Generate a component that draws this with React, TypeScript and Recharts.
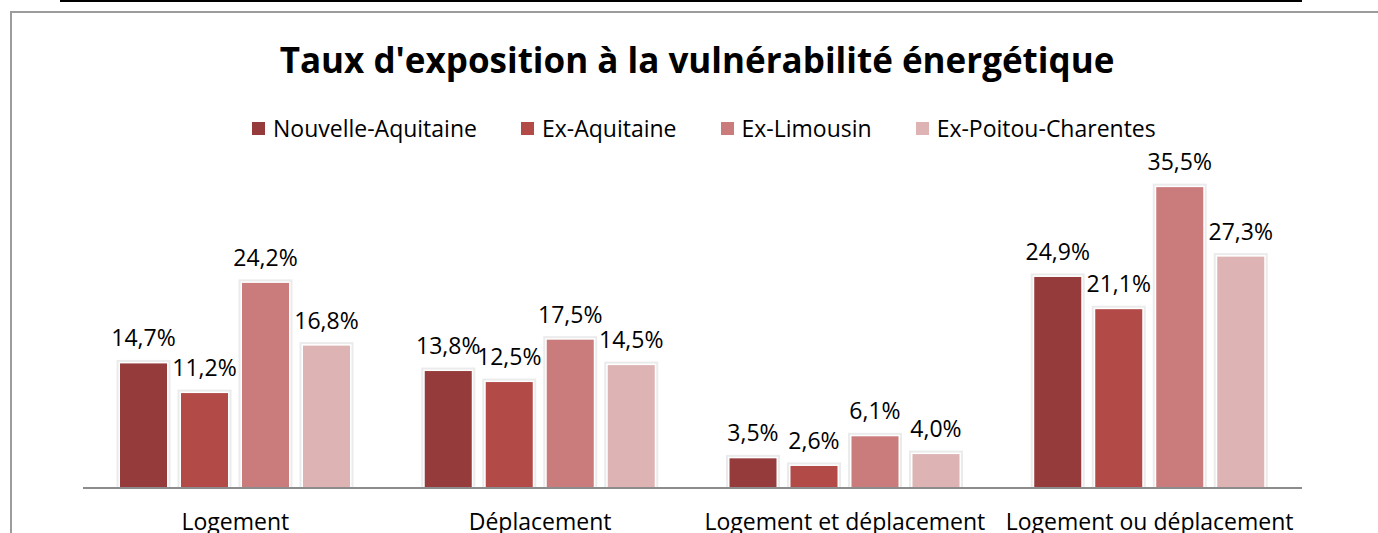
import React from 'react';
import { BarChart, Bar, XAxis, YAxis, LabelList } from 'recharts';

const categories = ['Logement', 'Déplacement', 'Logement et déplacement', 'Logement ou déplacement'];
const seriesNames = ['Nouvelle-Aquitaine', 'Ex-Aquitaine', 'Ex-Limousin', 'Ex-Poitou-Charentes'];
const seriesKeys = ['na', 'aq', 'li', 'pc'];
const seriesColors = ['#953B3B', '#B24A48', '#CA7B7B', '#DDB3B4'];
const nouvelleAquitaine = [14.7, 13.8, 3.5, 24.9];
const exAquitaine = [11.2, 12.5, 2.6, 21.1];
const exLimousin = [24.2, 17.5, 6.1, 35.5];
const exPoitouCharentes = [16.8, 14.5, 4.0, 27.3];
const seriesValues = [nouvelleAquitaine, exAquitaine, exLimousin, exPoitouCharentes];
const yDomain = [0, 40];

const data = categories.map((c, i) => {
  const row: any = { category: c };
  seriesKeys.forEach((k, s) => {
    row[k] = seriesValues[s][i];
  });
  return row;
});

const FONT = '"Open Sans", Lato, sans-serif';

const ShadowBar = (props: any) => {
  const { x, y, width, height, fill } = props;
  if (width == null || height == null) return null;
  return (
    <g>
      <rect x={x - 3.5} y={y - 3.5} width={width + 7} height={height + 3.5} fill="#ebebeb" />
      <rect x={x - 1.5} y={y - 1.5} width={width + 3} height={height + 1.5} fill="#ffffff" />
      <rect x={x} y={y} width={width} height={height} fill={fill} />
    </g>
  );
};

const CatTick = (props: any) => {
  const { x, y, payload } = props;
  return (
    <text x={x} y={y + 34} textAnchor="middle" fontFamily={FONT} fontSize={23} fill="#000">
      {payload.value}
    </text>
  );
};

const fmt = (v: any) => `${Number(v).toFixed(1).replace('.', ',')}%`;

export default function App() {
  return (
    <div style={{ position: 'absolute', left: 0, top: 0, width: 1378, height: 533, overflow: 'hidden', background: '#fff', fontVariantLigatures: 'none' }}>
      <div style={{ position: 'absolute', left: 60, top: 0, width: 1242, height: 2, background: '#000' }} />
      <div style={{ position: 'absolute', left: 10, top: 11, width: 1400, height: 600, border: '2px solid #9c9c9c', boxSizing: 'border-box' }} />
      <div style={{ position: 'absolute', left: 0, top: 0 }}>
        <BarChart
          width={1378}
          height={533}
          data={data}
          margin={{ top: 149, right: 76, bottom: 5, left: 83 }}
          barSize={47}
          barGap={14}
        >
          <XAxis
            dataKey="category"
            height={40}
            tickLine={false}
            axisLine={{ stroke: '#8c8c8c', strokeWidth: 2 }}
            tick={<CatTick />}
            interval={0}
          />
          <YAxis hide domain={yDomain} />
          {seriesKeys.map((k, s) => (
            <Bar key={k} dataKey={k} name={seriesNames[s]} fill={seriesColors[s]} isAnimationActive={false} shape={<ShadowBar />}>
              <LabelList dataKey={k} position="top" offset={17} formatter={fmt} fontFamily={FONT} fontSize={23} fill="#000" />
            </Bar>
          ))}
        </BarChart>
      </div>
      <div style={{ position: 'absolute', left: 0, top: 39, width: 1394, textAlign: 'center', fontFamily: FONT, fontWeight: 700, fontSize: 35, lineHeight: '42px', color: '#000' }}>
        Taux d'exposition à la vulnérabilité énergétique
      </div>
      <div style={{ position: 'absolute', left: 252, top: 114, display: 'flex', alignItems: 'center', fontFamily: FONT, fontSize: 23, lineHeight: '28px', color: '#000' }}>
        {seriesNames.map((n, s) => (
          <div key={n} style={{ display: 'flex', alignItems: 'center', marginRight: 44 }}>
            <div style={{ width: 13, height: 13, background: seriesColors[s], marginRight: 8 }} />
            <span>{n}</span>
          </div>
        ))}
      </div>
    </div>
  );
}
